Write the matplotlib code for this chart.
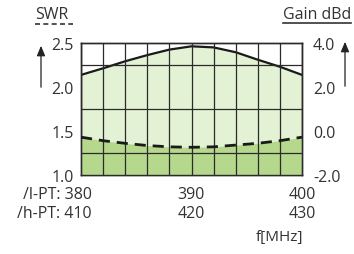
import numpy as np
import matplotlib
matplotlib.use('Agg')
from matplotlib import pyplot as plt

plt.rcParams['font.family'] = ['Open Sans', 'DejaVu Sans']

# frequency (l-PT band), MHz
freq = [380, 382, 384, 386, 388, 390, 392, 394, 396, 398, 400]
gain = [2.55, 2.85, 3.17, 3.45, 3.70, 3.85, 3.80, 3.58, 3.24, 2.92, 2.55]
swr = [1.43, 1.39, 1.36, 1.335, 1.32, 1.315, 1.32, 1.34, 1.36, 1.39, 1.43]

swr_ticks = [1.0, 1.5, 2.0, 2.5]
gain_ticks = [-2.0, 0.0, 2.0, 4.0]
lpt_labels = ['380', '390', '400']
hpt_labels = ['410', '420', '430']

light = '#e3f1d4'
dark = '#b6d88c'
fs = 11.5

fig = plt.figure(figsize=(3.54, 2.55), dpi=100)
ax = fig.add_axes([81/354, 1-176/255, 221/354, 132/255])
ax2 = ax.twinx()

ax.set_xlim(380, 400)
ax.set_ylim(1.0, 2.5)
ax2.set_ylim(-2.0, 4.0)

# gain curve (right axis) with light fill
ax2.fill_between(freq, -2.0, gain, color=light, lw=0, zorder=1)
ax2.plot(freq, gain, color='#1a1a1a', lw=1.6, zorder=4)
# swr curve (left axis) with dark fill
ax.fill_between(freq, 1.0, swr, color=dark, lw=0, zorder=1)
ax.plot(freq, swr, color='#1a1a1a', lw=2.0, ls=(0, (4, 2.5)), zorder=4)

ax.set_zorder(ax2.get_zorder() + 1)
ax.patch.set_visible(False)

# grid
ax.set_xticks(np.arange(380, 401, 2), minor=True)
ax.set_yticks(np.arange(1.0, 2.51, 0.25), minor=True)
ax.grid(which='minor', color='#2a2a2a', lw=0.9, zorder=3)
ax.set_axisbelow(False)
ax.tick_params(which='both', length=0)

ax.set_yticks(swr_ticks)
ax.set_yticklabels(['%.1f' % v for v in swr_ticks], fontsize=fs, color='#333333')
ax.tick_params(axis='y', pad=5)
ax2.set_yticks(gain_ticks)
ax2.set_yticklabels(['%.1f' % v for v in gain_ticks], fontsize=fs, color='#333333')
ax2.tick_params(length=0, pad=8)
ax.set_xticks([])
for s in list(ax.spines.values()) + list(ax2.spines.values()):
    s.set_color('#2a2a2a')
    s.set_linewidth(1.0)

# frequency labels under the axes
for f, lo, hi in zip([380, 390, 400], lpt_labels, hpt_labels):
    x = ax.transData.transform((f, 1.0))[0] / 354
    if f == 380:
        fig.text(92/354, 1-195/255, '/l-PT: ' + lo, ha='right', va='center', fontsize=fs, color='#333333')
        fig.text(92/354, 1-214/255, '/h-PT: ' + hi, ha='right', va='center', fontsize=fs, color='#333333')
    else:
        fig.text(x, 1-195/255, lo, ha='center', va='center', fontsize=fs, color='#333333')
        fig.text(x, 1-214/255, hi, ha='center', va='center', fontsize=fs, color='#333333')
fig.text(280/354, 1-238/255, 'f[MHz]', ha='center', va='center', fontsize=fs-0.5, color='#333333')

# axis titles with underlines and arrows
fig.text(35/354, 1-15/255, 'SWR', ha='left', va='center', fontsize=fs, color='#333333')
fig.add_artist(plt.Line2D([35/354, 73/354], [1-25/255, 1-25/255], color='#333333', lw=1.2, ls=(0, (3, 2))))
fig.text(351/354, 1-15/255, 'Gain dBd', ha='right', va='center', fontsize=fs, color='#333333')
fig.add_artist(plt.Line2D([283/354, 351/354], [1-24/255, 1-24/255], color='#333333', lw=1.2))

fig.add_artist(matplotlib.patches.FancyArrowPatch((41/354, 1-91/255), (41/354, 1-44/255),
               transform=fig.transFigure, arrowstyle='-|>,head_length=6,head_width=2.5', color='#222222', lw=0.9))
fig.add_artist(matplotlib.patches.FancyArrowPatch((345/354, 1-90/255), (345/354, 1-40/255),
               transform=fig.transFigure, arrowstyle='-|>,head_length=6,head_width=2.5', color='#222222', lw=0.9))

fig.savefig('out.png', dpi=100)
